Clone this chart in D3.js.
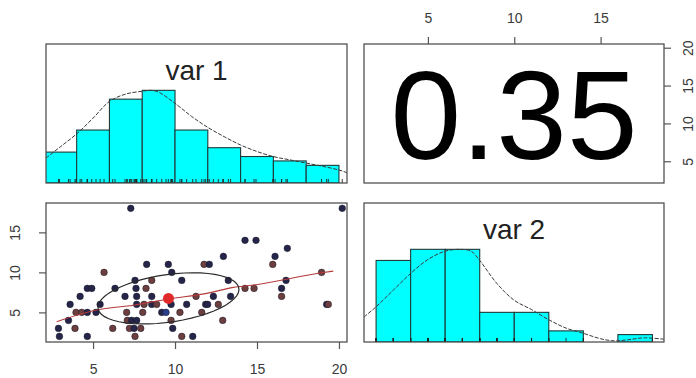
<!DOCTYPE html>
<html>
<head>
<meta charset="utf-8">
<script src="https://cdn.jsdelivr.net/npm/d3@7"></script>
<style>
  html, body { margin: 0; padding: 0; background: #fff; }
  svg { display: block; }
  text { font-family: "Liberation Sans", Arial, Helvetica, sans-serif; }
</style>
</head>
<body>
<svg id="chart" width="696" height="378"></svg>
<script>
// ---------- data ----------
const varNames = ["var 1", "var 2"];
const correlation = 0.35;

const var1Limits = [2.13, 20.49];
const var2Limits = [1.3, 18.67];
const var1Ticks = [5, 10, 15, 20];
const var2Ticks = [5, 10, 15];

// histogram bins and counts
const var1Breaks = [2, 4, 6, 8, 10, 12, 14, 16, 18, 20];
const var1Counts = [7, 12, 19, 21, 12, 8, 6, 5, 4];
const var2Breaks = [2, 4, 6, 8, 10, 12, 14, 16, 18];
const var2Counts = [22, 25, 25, 8, 8, 3, 0, 2];

// kernel density curves, scaled to a peak of 1
const var1DensityX = [2.13, 3, 4, 5, 6, 7, 8, 8.5, 9, 10, 11, 12, 13, 14, 15, 16, 17, 18, 19, 20, 20.5];
const var1DensityY = [0.27, 0.39, 0.53, 0.70, 0.88, 0.96, 0.99, 1.0, 0.98, 0.86, 0.72, 0.60, 0.50, 0.41, 0.34, 0.285, 0.25, 0.215, 0.18, 0.14, 0.11];
const var2DensityX = [1.3, 2, 3, 4, 5, 6, 6.9, 7.5, 8, 9, 10, 11, 12, 13, 14, 15, 15.8, 16.5, 17.5, 18.67];
const var2DensityY = [0.27, 0.38, 0.56, 0.74, 0.89, 0.98, 1.0, 0.98, 0.88, 0.63, 0.45, 0.35, 0.24, 0.15, 0.094, 0.035, 0.012, 0.022, 0.045, 0.03];

// observations (var 1, var 2, group)
const pointsVar1 = [
  7.3, 20.2,
  14.27, 14.94,
  16.85,
  12.95, 16.1,
  8.27, 9.59, 11.77, 12.09, 15.96,
  5.67, 9.8, 18.94,
  7.56, 8.58, 10.41, 13.25, 16.77,
  4.65, 4.92, 6.34, 7.62, 8.23, 14.27, 14.82, 16.5,
  4.21, 6.95, 7.66, 8.58, 11.28, 12.34, 13.39, 16.5,
  3.6, 5.43, 7.66, 8.11, 8.58, 8.88, 9.76, 10.71, 11.87, 11.99, 12.64, 19.25, 19.35,
  3.96, 4.31, 4.65, 5.18, 7.05, 8.03, 9.19, 9.45, 10.3, 11.63,
  3.5, 7.09, 7.36, 7.66, 9.76, 12.91,
  2.89, 3.9, 6.2, 7.22, 7.5, 7.91, 9.86,
  2.95, 4.65, 7.56, 10.41, 11.08
];
const pointsVar2 = [
  18, 18,
  14, 14,
  13,
  12, 12,
  11, 11, 11, 11, 11,
  10, 10, 10,
  9, 9, 9, 9, 9,
  8, 8, 8, 8, 8, 8, 8, 8,
  7, 7, 7, 7, 7, 7, 7, 7,
  6, 6, 6, 6, 6, 6, 6, 6, 6, 6, 6, 6, 6,
  5, 5, 5, 5, 5, 5, 5, 5, 5, 5,
  4, 4, 4, 4, 4, 4,
  3, 3, 3, 3, 3, 3, 3,
  2, 2, 2, 2, 2
];
const pointsGroup = [
  "a", "a",
  "a", "a",
  "a",
  "a", "a",
  "a", "a", "b", "a", "b",
  "b", "a", "b",
  "a", "b", "a", "a", "a",
  "a", "a", "a", "a", "b", "b", "b", "a",
  "a", "a", "a", "a", "b", "a", "a", "b",
  "a", "a", "a", "b", "a", "b", "a", "a", "a", "a", "b", "a", "b",
  "b", "b", "a", "a", "b", "b", "a", "c", "b", "b",
  "a", "b", "a", "a", "b", "b",
  "a", "b", "b", "b", "a", "b", "a",
  "a", "a", "b", "b", "a"
];

// local regression smoother
const smoothVar1 = [2.78, 5.22, 7.46, 9.59, 11.93, 13.56, 14.78, 18.94, 19.65];
const smoothVar2 = [3.84, 5.3, 5.9, 6.67, 7.38, 8.13, 8.42, 9.95, 10.16];

// moments for the correlation ellipse
const meanVar1 = 9.6, meanVar2 = 6.75;
const sdVar1 = 4.3, sdVar2 = 3.2;

// ---------- layout ----------
const colX = [[46, 347], [364, 664]];
const rowY = [[44, 183], [203, 342]];
const groupFill = { a: "#25254a", b: "#6c3e3e", c: "#2c3f8c" };
const axisColor = "#555";
const labelColor = "#3a3a3a";

const svg = d3.select("#chart");

const xVar1 = d3.scaleLinear().domain(var1Limits).range(colX[0]);
const xVar2 = d3.scaleLinear().domain(var2Limits).range(colX[1]);
const yVar1 = d3.scaleLinear().domain(var1Limits).range([rowY[0][1], rowY[0][0]]);
const yVar2 = d3.scaleLinear().domain(var2Limits).range([rowY[1][1], rowY[1][0]]);

function clipFor(id, c, r) {
  svg.append("clipPath").attr("id", id)
    .append("rect")
    .attr("x", colX[c][0]).attr("y", rowY[r][0])
    .attr("width", colX[c][1] - colX[c][0])
    .attr("height", rowY[r][1] - rowY[r][0]);
  return `url(#${id})`;
}

// ---------- diagonal: histogram + density + rug ----------
function histPanel(c, r, xScale, breaks, counts, densX, densY, rugValues, name, clipId) {
  const y = d3.scaleLinear().domain([0, 1.5]).range([rowY[r][1], rowY[r][0]]);
  const maxCount = d3.max(counts);
  const g = svg.append("g").attr("clip-path", clipFor(clipId, c, r));
  const bins = counts.map((n, i) => ({ x0: breaks[i], x1: breaks[i + 1], h: n / maxCount }));
  g.selectAll("rect.bar").data(bins).join("rect")
    .attr("class", "bar")
    .attr("x", d => xScale(d.x0))
    .attr("width", d => xScale(d.x1) - xScale(d.x0))
    .attr("y", d => y(d.h))
    .attr("height", d => y(0) - y(d.h))
    .attr("fill", "#00ffff")
    .attr("stroke", d => d.h > 0 ? "#1f3a3a" : "none")
    .attr("stroke-width", 1.1);

  g.selectAll("line.rug").data(rugValues).join("line")
    .attr("class", "rug")
    .attr("x1", d => xScale(d)).attr("x2", d => xScale(d))
    .attr("y1", rowY[r][1]).attr("y2", rowY[r][1] - 4)
    .attr("stroke", "#222").attr("stroke-width", 0.9);

  const line = d3.line().x(d => xScale(d[0])).y(d => y(d[1])).curve(d3.curveCatmullRom);
  g.append("path")
    .datum(densX.map((v, i) => [v, densY[i]]))
    .attr("d", line)
    .attr("fill", "none")
    .attr("stroke", "#3a3a3a")
    .attr("stroke-width", 1)
    .attr("stroke-dasharray", "4 1.5");

  svg.append("text")
    .attr("x", (colX[c][0] + colX[c][1]) / 2)
    .attr("y", rowY[r][0] + 36)
    .attr("text-anchor", "middle")
    .attr("font-size", 28)
    .attr("fill", "#222")
    .text(name);
}

histPanel(0, 0, xVar1, var1Breaks, var1Counts, var1DensityX, var1DensityY, pointsVar1, varNames[0], "clipA");
histPanel(1, 1, xVar2, var2Breaks, var2Counts, var2DensityX, var2DensityY, pointsVar2, varNames[1], "clipD");

// ---------- upper panel: correlation ----------
svg.append("text")
  .attr("x", (colX[1][0] + colX[1][1]) / 2)
  .attr("y", (rowY[0][0] + rowY[0][1]) / 2)
  .attr("dy", "0.36em")
  .attr("text-anchor", "middle")
  .attr("font-size", 127)
  .attr("fill", "#000")
  .text(d3.format(".2f")(correlation));

// ---------- lower panel: scatter, smoother, ellipse ----------
const gs = svg.append("g").attr("clip-path", clipFor("clipC", 0, 1));
const pts = pointsVar1.map((v, i) => ({ x: v, y: pointsVar2[i], g: pointsGroup[i] }));
gs.selectAll("circle.pt").data(pts).join("circle")
  .attr("class", "pt")
  .attr("cx", d => xVar1(d.x))
  .attr("cy", d => yVar2(d.y))
  .attr("r", 3.3)
  .attr("fill", d => groupFill[d.g])
  .attr("stroke", "#1a1a2a")
  .attr("stroke-width", 0.5);

gs.append("path")
  .datum(smoothVar1.map((v, i) => [v, smoothVar2[i]]))
  .attr("d", d3.line().x(d => xVar1(d[0])).y(d => yVar2(d[1])).curve(d3.curveMonotoneX))
  .attr("fill", "none")
  .attr("stroke", "#b53a3a")
  .attr("stroke-width", 1.1);

gs.append("circle")
  .attr("cx", xVar1(meanVar1)).attr("cy", yVar2(meanVar2))
  .attr("r", 5.5).attr("fill", "#e02a2a");

// correlation ellipse at one standard deviation
const theta = Math.sign(correlation) / Math.SQRT2;
const a1 = Math.sqrt(1 + correlation), a2 = Math.sqrt(1 - correlation);
const ellipse = d3.range(0, 52).map(k => {
  const t = k * 2 * Math.PI / 51;
  const u = Math.cos(t) * a1, w = Math.sin(t) * a2;
  return [meanVar1 + sdVar1 * theta * (u - w), meanVar2 + sdVar2 * theta * (u + w)];
});
gs.append("path")
  .datum(ellipse)
  .attr("d", d3.line().x(d => xVar1(d[0])).y(d => yVar2(d[1])))
  .attr("fill", "none")
  .attr("stroke", "#2a2a2a")
  .attr("stroke-width", 1.2);

// ---------- panel frames ----------
[[0, 0], [1, 0], [0, 1], [1, 1]].forEach(([c, r]) => {
  svg.append("rect")
    .attr("x", colX[c][0]).attr("y", rowY[r][0])
    .attr("width", colX[c][1] - colX[c][0])
    .attr("height", rowY[r][1] - rowY[r][0])
    .attr("fill", "none")
    .attr("stroke", "#444")
    .attr("stroke-width", 1.2);
});

// ---------- axes ----------
function styleAxis(g) {
  g.select(".domain").remove();
  g.selectAll(".tick line").attr("stroke", axisColor).attr("stroke-width", 1.2);
  g.selectAll(".tick text")
    .attr("fill", labelColor)
    .attr("font-size", 14)
    .attr("font-family", "Liberation Sans, Arial, sans-serif");
}

// bottom: var 1
svg.append("g")
  .attr("transform", `translate(0,${rowY[1][1]})`)
  .call(d3.axisBottom(xVar1).tickValues(var1Ticks).tickSize(7).tickPadding(15).tickFormat(d3.format("d")))
  .call(styleAxis);

// top: var 2
svg.append("g")
  .attr("transform", `translate(0,${rowY[0][0]})`)
  .call(d3.axisTop(xVar2).tickValues(var2Ticks).tickSize(7).tickPadding(14).tickFormat(d3.format("d")))
  .call(styleAxis);

// left: var 2 (rotated labels)
const gl = svg.append("g")
  .attr("transform", `translate(${colX[0][0]},0)`)
  .call(d3.axisLeft(yVar2).tickValues(var2Ticks).tickSize(7).tickFormat(d3.format("d")))
  .call(styleAxis);
gl.selectAll(".tick text")
  .attr("x", null).attr("dy", null)
  .attr("text-anchor", "middle")
  .attr("dominant-baseline", "central")
  .attr("transform", "translate(-31,0) rotate(-90)");

// right: var 1 (rotated labels)
const gr = svg.append("g")
  .attr("transform", `translate(${colX[1][1]},0)`)
  .call(d3.axisRight(yVar1).tickValues(var1Ticks).tickSize(7).tickFormat(d3.format("d")))
  .call(styleAxis);
gr.selectAll(".tick text")
  .attr("x", null).attr("dy", null)
  .attr("text-anchor", "middle")
  .attr("dominant-baseline", "central")
  .attr("transform", "translate(24,0) rotate(-90)");
</script>
</body>
</html>
